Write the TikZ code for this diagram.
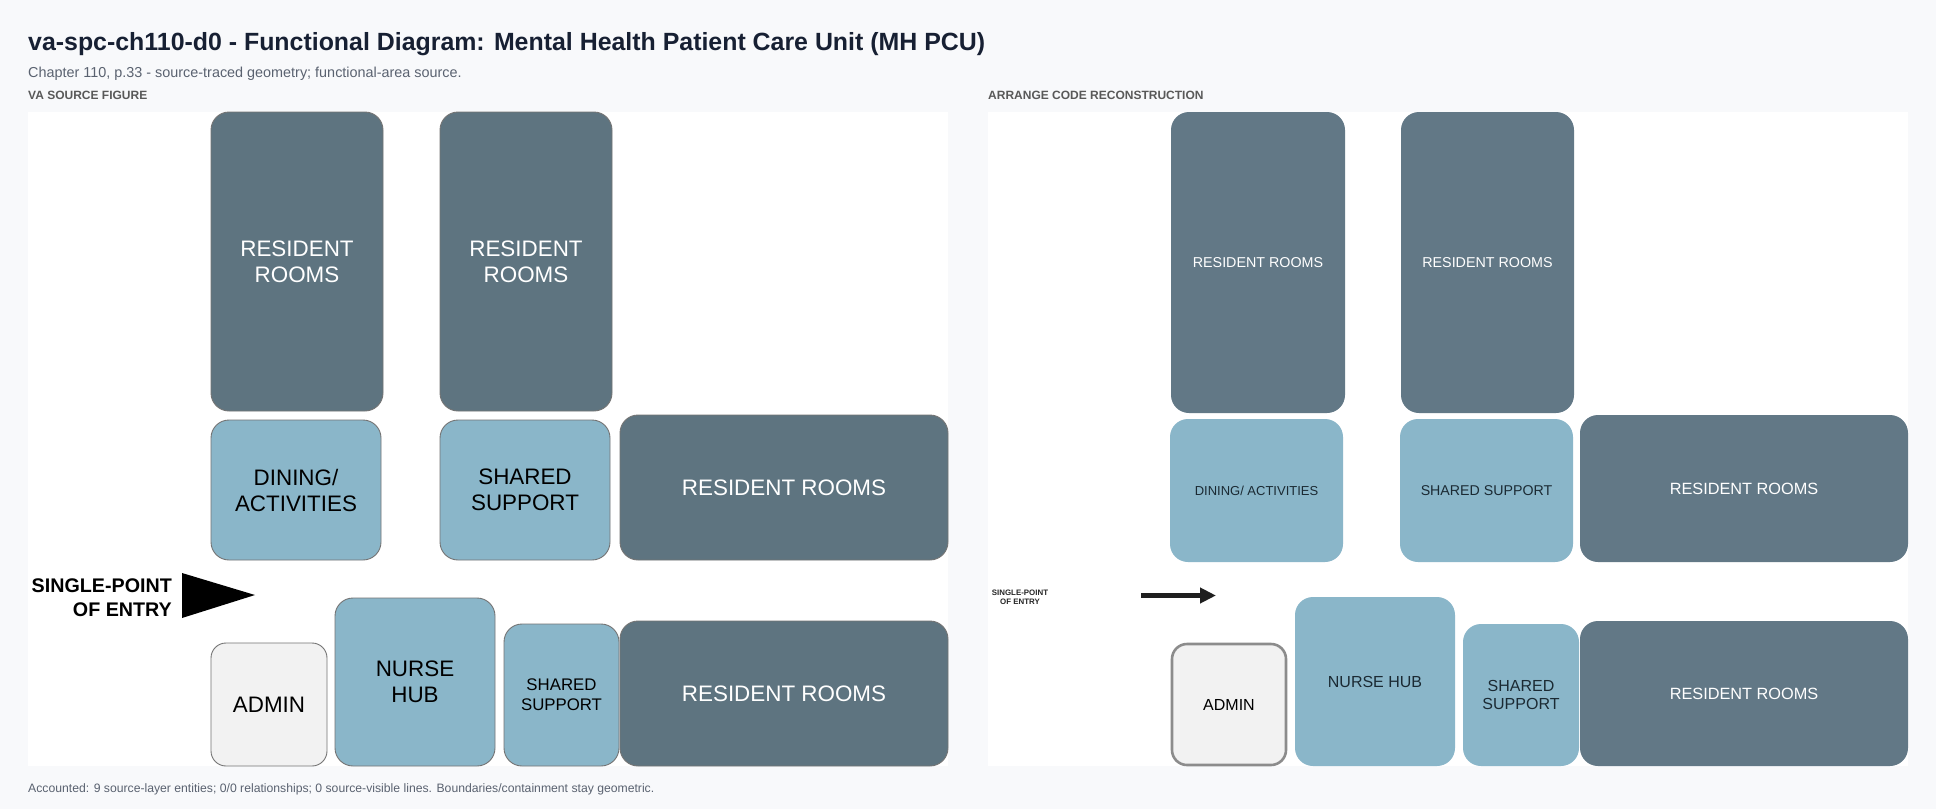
\documentclass[tikz,border=0pt]{standalone}
\usepackage{fontspec}
\setmainfont{Liberation Sans}
\usetikzlibrary{arrows.meta, positioning}
\definecolor{pagebg}{HTML}{F8F9FB}
\definecolor{slate}{HTML}{5E7480}
\definecolor{slatelt}{HTML}{627886}
\definecolor{aqua}{HTML}{8AB6C9}
\definecolor{adminfill}{HTML}{F2F2F2}
\definecolor{titleink}{HTML}{172033}
\definecolor{noteink}{HTML}{5A6270}
\definecolor{boxline}{HTML}{747474}
\definecolor{darkink}{HTML}{1B2A33}
\tikzset{
  area/.style={rectangle, rounded corners=18pt, inner sep=0pt, align=center},
  srcarea/.style={area, draw=boxline, line width=0.9pt},
  srcroom/.style={srcarea, fill=slate, text=white, font=\fontsize{22.4}{26}\selectfont},
  srcsupport/.style={srcarea, fill=aqua, text=black, font=\fontsize{22.4}{26}\selectfont},
  srcadmin/.style={srcarea, rounded corners=15pt, fill=adminfill, text=black, font=\fontsize{22.4}{26}\selectfont},
  recroom/.style={area, fill=slatelt, text=white},
  recsupport/.style={area, fill=aqua, text=darkink},
  recadmin/.style={area, rounded corners=15pt, draw=gray!90, line width=2.6pt, fill=adminfill, text=black},
  caption/.style={anchor=base west, inner sep=0pt, text=noteink},
  entry/.style={-{Triangle[length=16pt, width=15pt]}, line width=5pt, draw=black!88},
}

\begin{document}
\begin{tikzpicture}[x=1pt, y=-1pt]
  \useasboundingbox (0,0) rectangle (1936,809);
  \fill[pagebg] (0,0) rectangle (1936,809);
  \fill[white] (28,112) rectangle (948,766);
  \fill[white] (988,112) rectangle (1908,766);

  % header and footer
  \node[caption, text=titleink, font=\bfseries\fontsize{24.9}{28}\selectfont] (title) at (28,50)
    {va-spc-ch110-d0 - Functional Diagram: Mental Health Patient Care Unit (MH PCU)};
  \node[caption, font=\fontsize{14.4}{17}\selectfont] (subtitle) at (28,77)
    {Chapter 110, p.33 - source-traced geometry; functional-area source.};
  \node[caption, text=black!65, font=\bfseries\fontsize{12}{14}\selectfont] (srclabel) at (28,99) {VA SOURCE FIGURE};
  \node[caption, text=black!65, font=\bfseries\fontsize{12}{14}\selectfont] (reclabel) at (988,99) {ARRANGE CODE RECONSTRUCTION};
  \node[caption, font=\fontsize{12.2}{14}\selectfont] (footer) at (28,792)
    {Accounted: 9 source-layer entities; 0/0 relationships; 0 source-visible lines. Boundaries/containment stay geometric.};

  % VA source figure
  \node[srcroom, minimum width=172pt, minimum height=299pt] (srcRoomA) at (297,261.5) {RESIDENT\\ROOMS};
  \node[srcroom, minimum width=172pt, minimum height=299pt] (srcRoomB) at (526,261.5) {RESIDENT\\ROOMS};
  \node[srcsupport, minimum width=170pt, minimum height=140pt] (srcDining) at (296,490) {DINING/\\ACTIVITIES};
  \node[srcsupport, minimum width=170pt, minimum height=140pt] (srcShared) at (525,490) {SHARED\\SUPPORT};
  \node[srcroom, minimum width=328pt, minimum height=145pt] (srcRoomC) at (784,487.5) {RESIDENT ROOMS};
  \node[srcadmin, minimum width=116pt, minimum height=123pt] (srcAdmin) at (269,704.5) {ADMIN};
  \node[srcsupport, minimum width=160pt, minimum height=168pt] (srcNurse) at (415,682) {NURSE\\HUB};
  \node[srcsupport, minimum width=115pt, minimum height=142pt, font=\fontsize{16.8}{20}\selectfont] (srcSharedB) at (561.5,695) {SHARED\\SUPPORT};
  \node[srcroom, minimum width=328pt, minimum height=145pt] (srcRoomD) at (784,693.5) {RESIDENT ROOMS};
  \node[anchor=east, inner sep=0pt, align=right, font=\bfseries\fontsize{19.7}{24.5}\selectfont] (srcEntry) at (172,597.5) {SINGLE-POINT\\OF ENTRY};
  \fill[black] (182,573) -- (255,595) -- (182,618) -- cycle;

  % arrange code reconstruction
  \node[recroom, minimum width=174pt, minimum height=301pt, font=\fontsize{14.3}{17}\selectfont] (recRoomA) at (1258,262.5) {RESIDENT ROOMS};
  \node[recroom, minimum width=173pt, minimum height=301pt, font=\fontsize{14.3}{17}\selectfont] (recRoomB) at (1487.5,262.5) {RESIDENT ROOMS};
  \node[recsupport, minimum width=173pt, minimum height=143pt, font=\fontsize{13}{16}\selectfont] (recDining) at (1256.5,490.5) {DINING/ ACTIVITIES};
  \node[recsupport, minimum width=173pt, minimum height=143pt, font=\fontsize{14.2}{17}\selectfont] (recShared) at (1486.5,490.5) {SHARED SUPPORT};
  \node[recroom, minimum width=328pt, minimum height=147pt, font=\fontsize{16.3}{19}\selectfont] (recRoomC) at (1744,488.5) {RESIDENT ROOMS};
  \node[recadmin, minimum width=114pt, minimum height=121pt, font=\fontsize{16}{19}\selectfont] (recAdmin) at (1229,704.5) {ADMIN};
  \node[recsupport, minimum width=160pt, minimum height=169pt, font=\fontsize{16}{19}\selectfont] (recNurse) at (1375,681.5) {NURSE HUB};
  \node[recsupport, minimum width=116pt, minimum height=142pt, font=\fontsize{16}{18.5}\selectfont] (recSharedB) at (1521,695) {SHARED\\SUPPORT};
  \node[recroom, minimum width=328pt, minimum height=145pt, font=\fontsize{16.3}{19}\selectfont] (recRoomD) at (1744,693.5) {RESIDENT ROOMS};
  \node[inner sep=0pt, align=center, text=black!85, font=\bfseries\fontsize{7.9}{8.5}\selectfont] (recEntry) at (1020,597.5) {SINGLE-POINT\\OF ENTRY};
  \coordinate (recEntryFrom) at (1141,595.5);
  \coordinate (recEntryTo) at (1216,595.5);
  \draw[entry] (recEntryFrom) -- (recEntryTo);
\end{tikzpicture}
\end{document}
